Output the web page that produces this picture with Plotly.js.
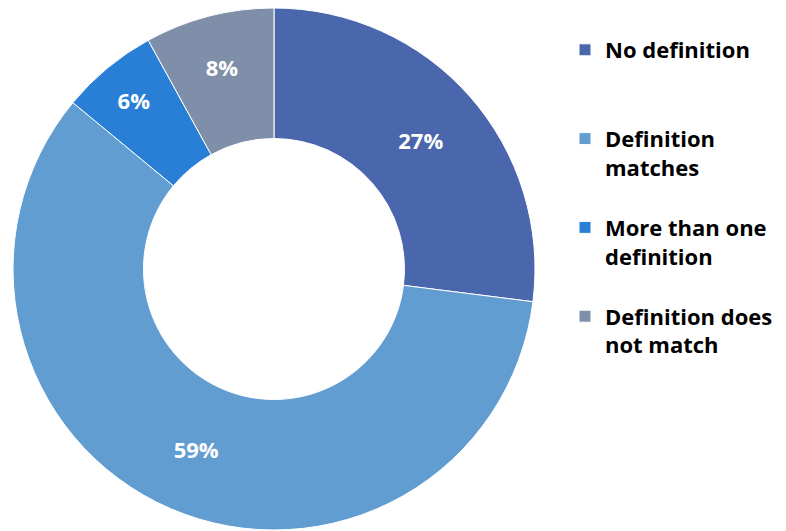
<!DOCTYPE html>
<html>
<head>
<meta charset="utf-8">
<script src="https://cdn.plot.ly/plotly-3.0.1.min.js"></script>
<style>html,body{margin:0;padding:0;background:#fff;}#chart{width:786px;height:531px;}</style>
</head>
<body>
<div id="chart"></div>
<script>
const categories = ["No definition", "Definition matches", "More than one definition", "Definition does not match"];
const legendLabels = ["No definition<br>\u00a0<br>\u00a0", "Definition<br>matches<br>\u00a0", "More than one<br>definition<br>\u00a0", "Definition does<br>not match<br>\u00a0"];
const shares = [27, 59, 6, 8];
const colors = ["#4A66AC", "#629DD1", "#297FD5", "#7F8FA9"];

const W = 786, H = 531;
const margin = {l: 13, r: 0, t: 8, b: 1};
const plotW = W - margin.l - margin.r;
const plotH = H - margin.t - margin.b;

const trace = {
  type: "pie",
  labels: legendLabels,
  values: shares,
  customdata: categories,
  sort: false,
  direction: "clockwise",
  rotation: 0,
  hole: 0.5,
  marker: {colors: colors, line: {color: "#ffffff", width: 1}},
  texttemplate: "%{percent:.0%}",
  textposition: "inside",
  insidetextorientation: "horizontal",
  textfont: {family: "Open Sans", size: 22, color: "#ffffff", weight: "bold"},
  hovertemplate: "%{customdata}: %{percent:.0%}<extra></extra>",
  domain: {x: [0, plotH / plotW], y: [0, 1]}
};

const layout = {
  width: W,
  height: H,
  margin: margin,
  paper_bgcolor: "#ffffff",
  plot_bgcolor: "#ffffff",
  showlegend: true,
  legend: {
    x: (565 - margin.l) / plotW,
    xanchor: "left",
    y: (H - margin.b - 29) / plotH,
    yanchor: "top",
    valign: "top",
    bgcolor: "rgba(0,0,0,0)",
    font: {family: "Open Sans", size: 22, color: "#000000", weight: "bold"}
  }
};

Plotly.newPlot("chart", [trace], layout, {displayModeBar: false, staticPlot: true});
</script>
</body>
</html>
